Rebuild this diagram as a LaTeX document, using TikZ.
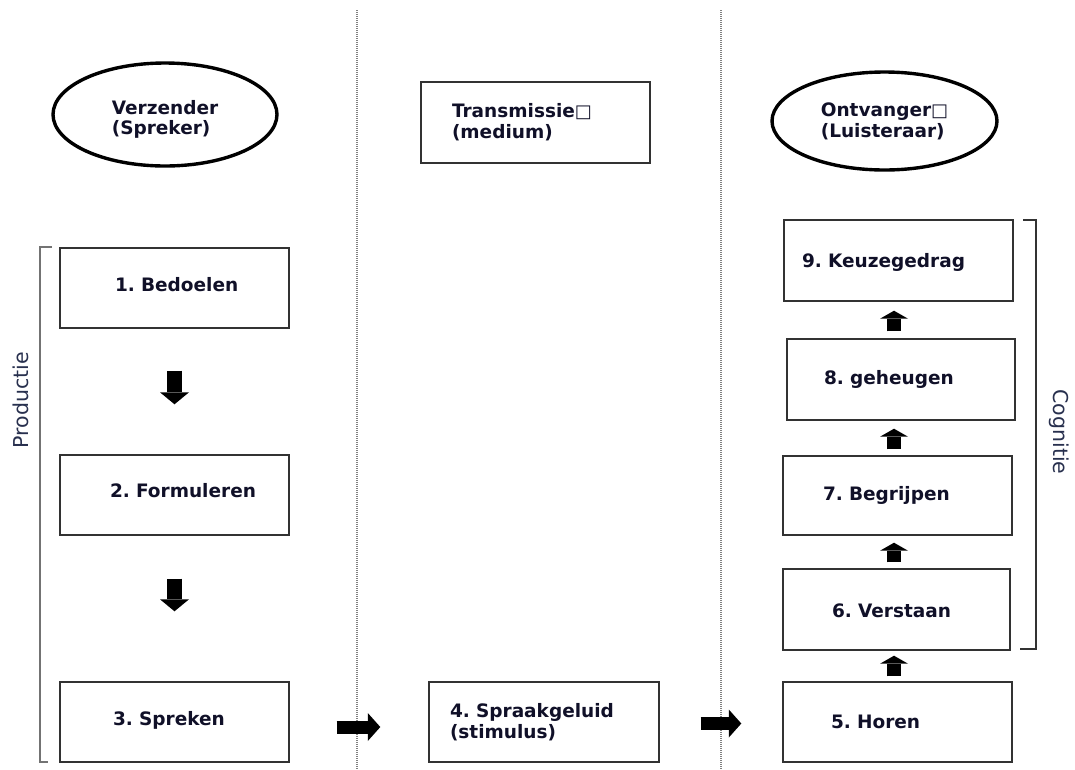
\documentclass[tikz,border=0pt]{standalone}
\usepackage{fontspec}
\setmainfont{DejaVu Sans}
\usetikzlibrary{arrows.meta,shapes.geometric}
\definecolor{txt}{RGB}{16,16,40}
\definecolor{sidetxt}{RGB}{40,48,78}
\definecolor{boxline}{RGB}{50,50,50}
\newcommand{\sq}{{\fontsize{18}{18}\mdseries □}}
\newcommand{\up}[2]{\raisebox{#1}[\height][\depth]{#2}}
\frenchspacing
\tikzset{
  lbl/.style={font=\fontsize{18.5}{21}\selectfont\bfseries, text=txt},
  bx/.style 2 args={lbl, draw=boxline, line width=1.4pt, rectangle, minimum height=80pt,
     inner ysep=0pt, inner xsep=#2, text width=#1, align=left},
  oval/.style={lbl, draw=black, line width=3.4pt, ellipse, inner sep=0pt, align=left},
  sep/.style={draw=black!50, line width=1.1pt, dash pattern=on 1pt off 1pt},
  brk/.style={line width=1.2pt},
  dnarr/.style={line width=15pt, -{Triangle[length=12pt,width=29pt,line width=0pt]}},
  hzarr/.style={line width=13pt, -{Triangle[length=12.5pt,width=28pt,line width=0pt]}},
  uparr/.style={line width=14pt, -{Triangle[length=8pt,width=28pt,line width=0pt]}},
  side/.style={font=\fontsize{20.5}{24}\selectfont, text=sidetxt}
}
\begin{document}
\begin{tikzpicture}[x=1pt,y=-1pt]
\useasboundingbox (0,0) rectangle (1075,769);

% separators
\coordinate (s1t) at (357,10); \coordinate (s1b) at (357,769);
\coordinate (s2t) at (721,10); \coordinate (s2b) at (721,769);
\draw[sep] (s1t) -- (s1b);
\draw[sep] (s2t) -- (s2b);

% headers
\node[oval, minimum width=224pt, minimum height=103pt] (zender) at (165,114.5)
  {\up{-6pt}{\begin{tabular}{@{}l@{}}Verzender\\[-1.5pt](Spreker)\end{tabular}}};
\node[bx={167pt}{31pt}, minimum height=81pt] (trans) at (535.5,122.5) {\mbox{Transmissie\sq}\\\mbox{(medium)}};
\node[oval, minimum width=225pt, minimum height=98pt] (ontv) at (884.5,121) {Ontvanger\sq\\(Luisteraar)};

% left column
\node[bx={119pt}{55pt}] (b1) at (174.5,288) {\up{3pt}{\mbox{1. Bedoelen}}};
\node[bx={129pt}{50pt}] (b2) at (174.5,495) {\up{4pt}{\mbox{2. Formuleren}}};
\node[bx={123pt}{53pt}] (b3) at (174.5,722) {\up{2pt}{\mbox{3. Spreken}}};

% middle
\node[bx={188pt}{21pt}] (b4) at (544,722) {\mbox{4. Spraakgeluid}\\\mbox{(stimulus)}};

% right column
\node[bx={133pt}{48pt}] (b5) at (897.5,722) {\mbox{5. Horen}};
\node[bx={129pt}{49pt}, minimum height=81pt] (b6) at (896.5,609.5) {\up{-1.5pt}{\mbox{6. Verstaan}}};
\node[bx={149pt}{40pt}, minimum height=79pt] (b7) at (897.5,495.5) {\mbox{7. Begrijpen}};
\node[bx={154pt}{37pt}, minimum height=81pt] (b8) at (901,379.5) {\mbox{8. geheugen}};
\node[bx={193pt}{18pt}, minimum height=81pt] (b9) at (898.5,260.5) {\up{-1.5pt}{\mbox{9. Keuzegedrag}}};

% block arrows
\draw[dnarr, shorten <=42pt, shorten >=50pt] (b1.south) -- (b2.north);
\draw[dnarr, shorten <=43pt, shorten >=70pt] (b2.south) -- (b3.north);
\draw[hzarr, shorten <=47pt, shorten >=48pt] ([yshift=-5pt]b3.east) -- ([yshift=-5pt]b4.west);
\draw[hzarr, shorten <=41pt, shorten >=41pt] ([yshift=-1.5pt]b4.east) -- ([yshift=-1.5pt]b5.west);
\coordinate (ux) at (894,0);
\draw[uparr, shorten <=5pt, shorten >=5pt] (b5.north -| ux) -- (b6.south -| ux);
\draw[uparr, shorten <=6pt, shorten >=7pt] (b6.north -| ux) -- (b7.south -| ux);
\draw[uparr, shorten <=6pt, shorten >=8pt] (b7.north -| ux) -- (b8.south -| ux);
\draw[uparr, shorten <=7pt, shorten >=9pt] (b8.north -| ux) -- (b9.south -| ux);

% brackets
\coordinate (pt1) at (52,247); \coordinate (pt2) at (40,247);
\coordinate (pb2) at (40,762); \coordinate (pb1) at (48,762);
\draw[brk, draw=black!55] (pt1) -- (pt2) -- (pb2) -- (pb1);
\coordinate (ct1) at (1023,220); \coordinate (ct2) at (1036,220);
\coordinate (cb2) at (1036,649); \coordinate (cb1) at (1020,649);
\draw[brk, draw=black!80] (ct1) -- (ct2) -- (cb2) -- (cb1);

\node[side, rotate=90] (prod) at (21,400) {Productie};
\node[side, rotate=-90] (cogn) at (1059,432) {Cognitie};
\end{tikzpicture}
\end{document}
